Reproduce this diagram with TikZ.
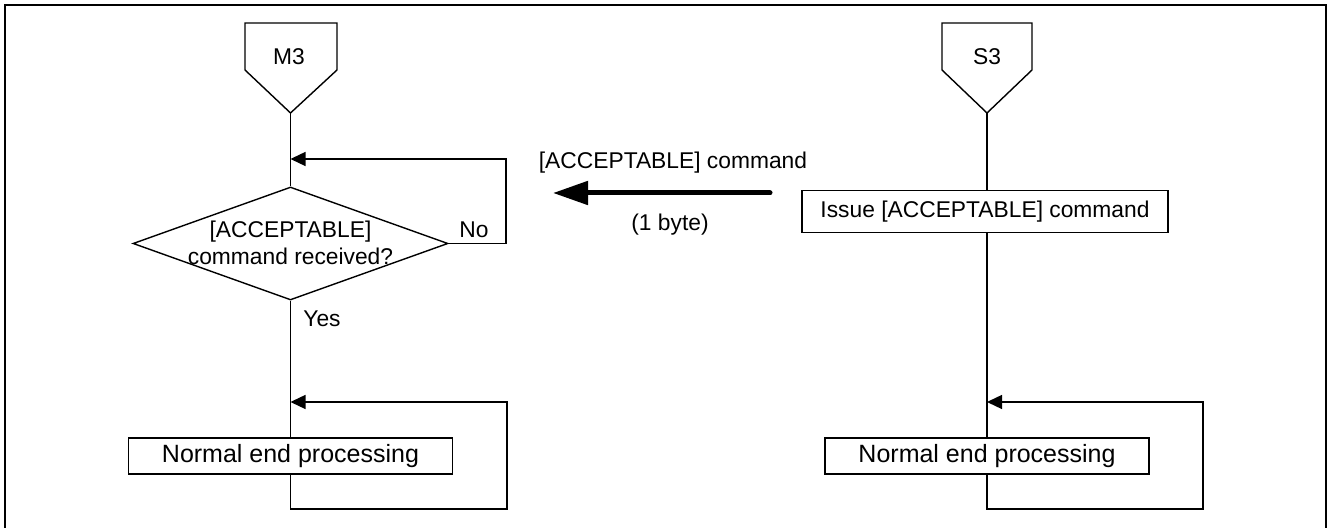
\documentclass[tikz,border=0pt]{standalone}
\usepackage{fontspec}
\setmainfont{Liberation Sans}
\usetikzlibrary{arrows.meta}
\usetikzlibrary{shapes.geometric}

\tikzset{
    flowline/.style={line width=0.7pt},
    backarrow/.style={flowline,-{Triangle[length=7.5pt,width=7pt]}},
    procbox/.style={draw,flowline,rectangle,inner sep=0pt,minimum height=18pt},
    endbox/.style={procbox,minimum width=162pt,font=\fontsize{12.5}{13.5}\selectfont},
}

\begin{document}
\begin{tikzpicture}[x=0.5pt,y=-0.5pt,font=\fontsize{11.4}{13.2}\selectfont]
    \useasboundingbox (0,0) rectangle (1328,528);
    \draw[line width=1.2pt] (5,540) -- (5,5) -- (1326,5) -- (1326,540);

    % master
    \draw[flowline] (245,23) -- (337,23) -- (337,70) -- (290.5,113) -- (245,70) -- cycle;
    \node (m3) at (289,57) {M3};
    \coordinate (m3tip) at (290.5,113);

    \node[draw,flowline,diamond,inner sep=0pt,minimum width=157.5pt,minimum height=56.5pt] (recv) at (290.5,243.5) {};
    \node[align=center] (recvtxt) at (290.5,243) {[ACCEPTABLE]\\command received?};
    \draw[flowline] (m3tip) -- (recv.north);

    \coordinate (noturn) at (506,159);
    \draw[backarrow] (recv.east) -| (noturn) -- (m3tip |- noturn);
    \node (no) at (474,230) {No};
    \node (yes) at (322,319) {Yes};

    \node[endbox] (endm) at (290.5,456) {Normal end processing};
    \draw[flowline] (recv.south) -- (recv.south |- endm.north);
    \coordinate (mbottom) at (507,509);
    \coordinate (mloop) at (507,402);
    \draw[backarrow] (recv.south |- endm.south) |- (mbottom) -- (mloop) -- (recv.south |- mloop);

    % slave
    \draw[flowline] (942,23) -- (1032,23) -- (1032,70) -- (987,113) -- (942,70) -- cycle;
    \node (s3) at (987,57) {S3};
    \coordinate (s3tip) at (987,113);

    \node[procbox,minimum width=183pt,minimum height=21pt] (issue) at (985,211.5) {Issue [ACCEPTABLE] command};
    \draw[flowline] (s3tip) -- (s3tip |- issue.north);

    \node[endbox] (ends) at (987,456) {Normal end processing};
    \draw[flowline] (s3tip |- issue.south) -- (s3tip |- ends.north);
    \coordinate (sbottom) at (1203,509);
    \coordinate (sloop) at (1203,402);
    \draw[backarrow] (s3tip |- ends.south) |- (sbottom) -- (sloop) -- (s3tip |- sloop);

    % command sent
    \coordinate (cmdstart) at (770,193);
    \coordinate (cmdend) at (553,193);
    \draw[line width=2.5pt,line cap=round,-{Triangle[length=17.5pt,width=11.5pt]}] (cmdstart) -- (cmdend);
    \node (cmdlbl) at (673,163) {[ACCEPTABLE] command};
    \node (bytelbl) at (670,225) {(1 byte)};
\end{tikzpicture}
\end{document}
